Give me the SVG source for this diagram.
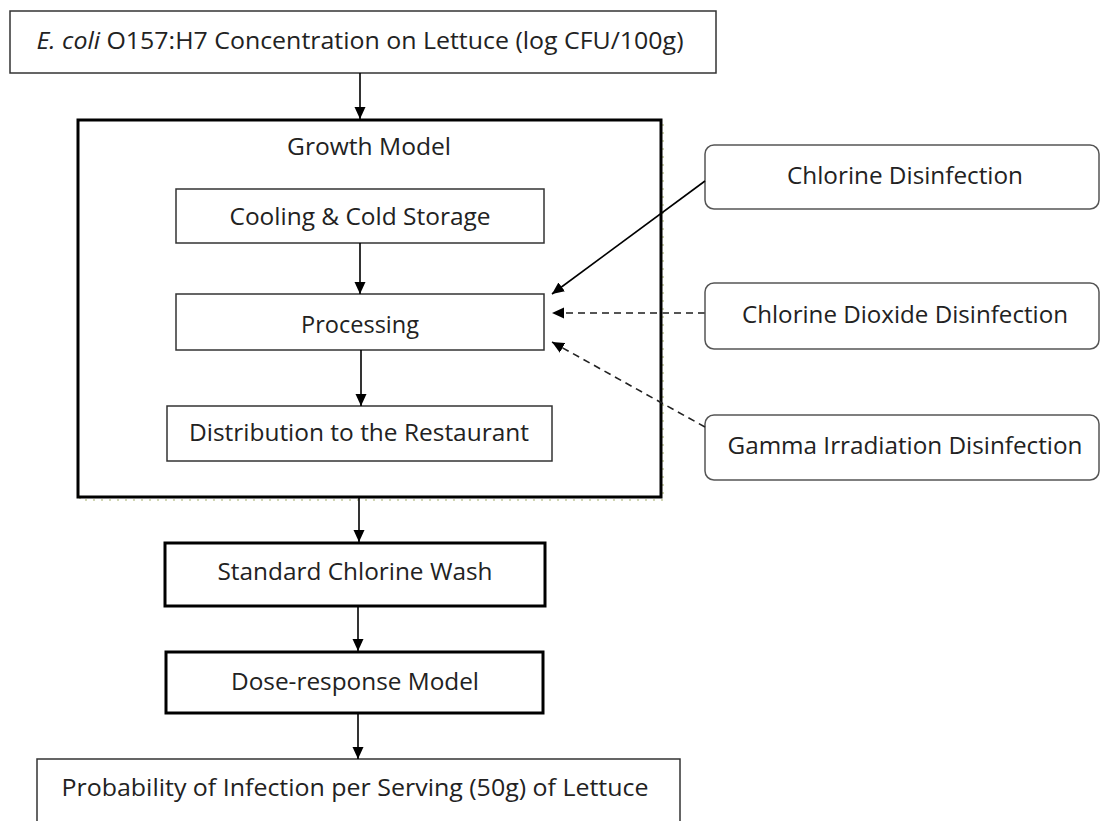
<svg xmlns="http://www.w3.org/2000/svg" width="1102" height="821" viewBox="0 0 1102 821">
<style>
  .box{fill:#fff;stroke:#333;stroke-width:1.5}
  .thick{fill:#fff;stroke:#000;stroke-width:3}
  .rbox{fill:#fff;stroke:#555;stroke-width:1.5}
  .lbl{font-family:"Open Sans","Liberation Sans",sans-serif;font-size:23px;fill:#222;text-anchor:middle}
  .c{stroke:#000;stroke-width:1.6;fill:none}
  .d{stroke:#555;stroke-width:1.8;fill:none;stroke-dasharray:7 5}
  .d2{stroke:#222;stroke-width:1.6;fill:none;stroke-dasharray:7 5}
</style>
<defs>
  <marker id="ah" viewBox="0 0 12 12" refX="12" refY="6" markerWidth="12" markerHeight="12" markerUnits="userSpaceOnUse" orient="auto">
    <path d="M0,0.5 L12,6 L0,11.5 z" fill="#000"/>
  </marker>
</defs>
<rect width="1102" height="821" fill="#fff"/>

<g id="top">
  <rect class="box" x="10" y="11" width="706" height="62"/>
  <text class="lbl" x="360" y="49" textLength="647" lengthAdjust="spacingAndGlyphs"><tspan font-style="italic">E. coli</tspan> O157:H7 Concentration on Lettuce (log CFU/100g)</text>
</g>

<g id="growth">
  <rect x="80" y="123" width="583" height="377" fill="none" stroke="#c2c99a" stroke-width="1.5" stroke-dasharray="2 6"/>
  <rect class="thick" x="78" y="120" width="583" height="377"/>
  <text class="lbl" x="369" y="155" textLength="164" lengthAdjust="spacingAndGlyphs">Growth Model</text>
</g>

<g id="cooling">
  <rect class="box" x="176" y="189" width="368" height="54"/>
  <text class="lbl" x="360" y="225" textLength="261" lengthAdjust="spacingAndGlyphs">Cooling &amp; Cold Storage</text>
</g>

<g id="processing">
  <rect class="box" x="176" y="294" width="368" height="56"/>
  <text class="lbl" x="360" y="333" textLength="118" lengthAdjust="spacingAndGlyphs">Processing</text>
</g>

<g id="distribution">
  <rect class="box" x="167" y="406" width="385" height="55"/>
  <text class="lbl" x="359" y="441" textLength="340" lengthAdjust="spacingAndGlyphs">Distribution to the Restaurant</text>
</g>

<g id="standard">
  <rect class="thick" x="165" y="543" width="380" height="63"/>
  <text class="lbl" x="355" y="580" textLength="275" lengthAdjust="spacingAndGlyphs">Standard Chlorine Wash</text>
</g>

<g id="dose">
  <rect class="thick" x="166" y="652" width="377" height="61"/>
  <text class="lbl" x="355" y="690" textLength="248" lengthAdjust="spacingAndGlyphs">Dose-response Model</text>
</g>

<g id="probability">
  <rect class="box" x="37" y="759" width="643" height="80"/>
  <text class="lbl" x="355" y="796" textLength="587" lengthAdjust="spacingAndGlyphs">Probability of Infection per Serving (50g) of Lettuce</text>
</g>

<g id="chlorine">
  <rect class="rbox" x="705" y="145" width="394" height="64" rx="9"/>
  <text class="lbl" x="905" y="184" textLength="236" lengthAdjust="spacingAndGlyphs">Chlorine Disinfection</text>
</g>

<g id="dioxide">
  <rect class="rbox" x="705" y="283" width="394" height="66" rx="9"/>
  <text class="lbl" x="905" y="323" textLength="326" lengthAdjust="spacingAndGlyphs">Chlorine Dioxide Disinfection</text>
</g>

<g id="gamma">
  <rect class="rbox" x="705" y="415" width="394" height="65" rx="9"/>
  <text class="lbl" x="905" y="454" textLength="355" lengthAdjust="spacingAndGlyphs">Gamma Irradiation Disinfection</text>
</g>

<g id="connectors">
  <line class="c" x1="360" y1="73" x2="360" y2="119" marker-end="url(#ah)"/>
  <line class="c" x1="360" y1="243" x2="360" y2="294" marker-end="url(#ah)"/>
  <line class="c" x1="361" y1="350" x2="361" y2="406" marker-end="url(#ah)"/>
  <line class="c" x1="359" y1="498" x2="359" y2="542" marker-end="url(#ah)"/>
  <line class="c" x1="358" y1="606" x2="358" y2="651" marker-end="url(#ah)"/>
  <line class="c" x1="358" y1="713" x2="358" y2="759" marker-end="url(#ah)"/>
  <line class="c" x1="705" y1="181" x2="552" y2="294" marker-end="url(#ah)"/>
  <line class="d" x1="705" y1="313" x2="552" y2="313" marker-end="url(#ah)"/>
  <line class="d2" x1="705" y1="427" x2="552" y2="342" marker-end="url(#ah)"/>
</g>
</svg>
